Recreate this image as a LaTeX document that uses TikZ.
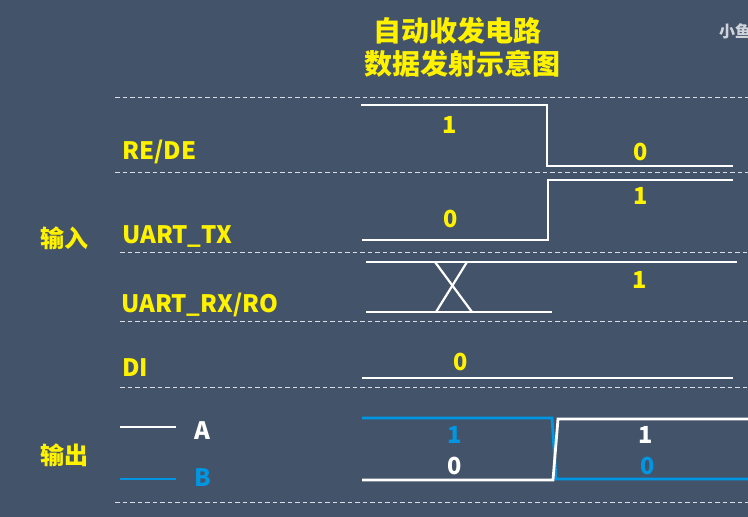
\documentclass[tikz,border=0pt]{standalone}
\usepackage{fontspec}
\setmainfont{Noto Sans CJK SC}
\usetikzlibrary{positioning}
\definecolor{background}{RGB}{67,83,106}
\definecolor{penYellow}{RGB}{255,242,0}
\definecolor{penBlue}{RGB}{0,150,225}
\colorlet{penColor}{white}
\colorlet{gridColor}{white!80!background}
\colorlet{markColor}{white!75!background}
\tikzset{
  wave/.style={penColor, line width=2.8pt},
  waveB/.style={penBlue, line width=2.8pt},
  sep/.style={gridColor, line width=0.9pt, dash pattern=on 4.5pt off 3pt},
  sig/.style={penYellow, font=\fontsize{24}{26}\selectfont\bfseries, anchor=west, inner sep=0pt},
  bit/.style={penYellow, font=\fontsize{23.5}{26}\selectfont\bfseries, inner sep=0pt},
  head/.style={penYellow, font=\fontsize{28}{30}\selectfont\bfseries, inner sep=0pt},
}
\begin{document}
\begin{tikzpicture}[x=1pt,y=-1pt]
				\clip (0,0) rectangle (748,517);
				\fill[background] (0,0) rectangle (748,517);

				% title
				\node[head] (title1) at (457,31) {自动收发电路};
				\node[head] (title2) at (462,64) {数据发射示意图};
				\node[markColor, font=\fontsize{16}{18}\selectfont\bfseries, anchor=west, inner sep=0pt] (mark) at (719,31) {小鱼};

				% separators
				\draw[sep] (115,97) -- (748,97);
				\draw[sep] (115,172) -- (748,172);
				\draw[sep] (120,252) -- (748,252);
				\draw[sep] (120,321) -- (748,321);
				\draw[sep] (120,387) -- (748,387);
				\draw[sep] (115,502) -- (748,502);

				% signal names
				\node[sig] (rede) at (122,152) {RE/DE};
				\node[sig] (tx) at (122,237) {UART\_TX};
				\node[sig] (rx) at (121,305) {UART\_RX/RO};
				\node[sig] (di) at (122,368) {DI};
				\node[sig] (inp) at (40,238) {输入};
				\node[sig] (outp) at (40,455) {输出};

				% legend
				\draw[wave] (120,427) -- (176,427);
				\node[sig, penColor] (la) at (194,431) {A};
				\draw[waveB] (120,479) -- (176,479);
				\node[sig, penBlue] (lb) at (194,478) {B};

				% RE/DE
				\draw[wave] (361,105) -- (547,105) -- (547,166) -- (733,166);
				\node[bit] (rede1) at (450,125) {1};
				\node[bit] (rede0) at (641,152) {0};

				% UART_TX
				\draw[wave] (362,240) -- (548,240) -- (548,180) -- (733,180);
				\node[bit] (tx0) at (451,219) {0};
				\node[bit] (tx1) at (641,196) {1};

				% UART_RX/RO
				\draw[wave] (366,262) -- (737,262);
				\draw[wave] (366,312) -- (552,312);
				\draw[penColor, line width=2.2pt] (435,262) -- (472,312);
				\draw[penColor, line width=2.2pt] (467,262) -- (436,312);
				\node[bit] (rx1) at (640,280) {1};

				% DI
				\draw[wave] (362,378) -- (733,378);
				\node[bit] (di0) at (461,362) {0};

				% A / B
				\draw[waveB] (362,418) -- (552,418) -- (556,479) -- (748,479);
				\draw[wave] (362,480) -- (553,480) -- (558,419) -- (748,419);
				\node[bit, penBlue] (b1) at (455,435) {1};
				\node[bit, penColor] (a0) at (455,466) {0};
				\node[bit, penColor] (a1) at (646,435) {1};
				\node[bit, penBlue] (b0) at (648,466) {0};
\end{tikzpicture}
\end{document}
